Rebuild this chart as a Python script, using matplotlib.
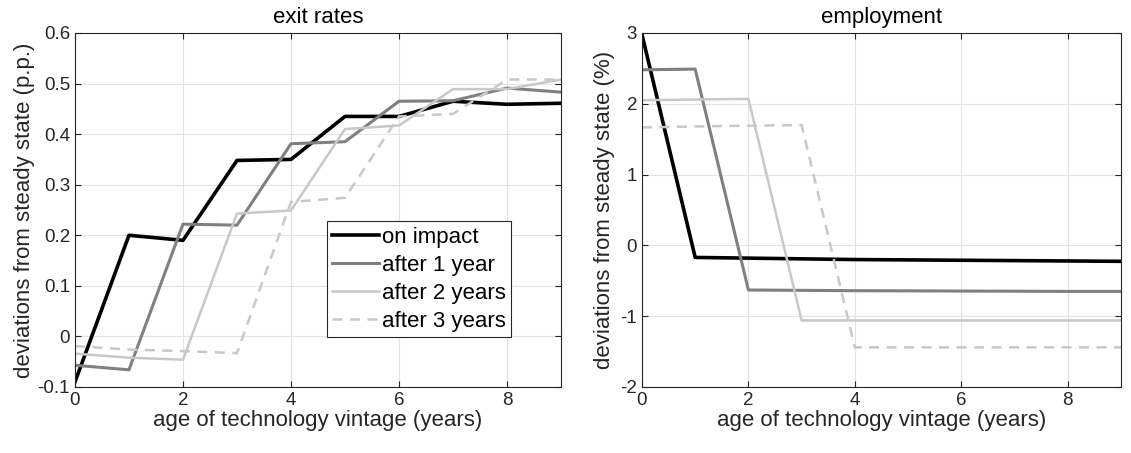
import numpy as np
import matplotlib.pyplot as plt

plt.rcParams['font.family'] = ['Liberation Sans', 'DejaVu Sans']
plt.rcParams['axes.unicode_minus'] = False
plt.rcParams['font.size'] = 16

# vintage age (years)
age = np.arange(10)

labels = ["on impact", "after 1 year", "after 2 years", "after 3 years"]

# exit rates, p.p. deviation from steady state
exit_impact = [-0.09, 0.200, 0.190, 0.348, 0.350, 0.435, 0.435, 0.465, 0.459, 0.461]
exit_1y = [-0.057, -0.066, 0.222, 0.220, 0.381, 0.385, 0.465, 0.466, 0.491, 0.483]
exit_2y = [-0.034, -0.042, -0.046, 0.243, 0.249, 0.410, 0.417, 0.489, 0.489, 0.508]
exit_3y = [-0.019, -0.026, -0.029, -0.033, 0.266, 0.274, 0.435, 0.440, 0.508, 0.508]

# employment, % deviation from steady state
emp_impact = [2.98, -0.17, -0.18, -0.19, -0.20, -0.205, -0.21, -0.215, -0.22, -0.225]
emp_1y = [2.48, 2.49, -0.63, -0.635, -0.64, -0.642, -0.645, -0.647, -0.65, -0.65]
emp_2y = [2.05, 2.06, 2.07, -1.06, -1.06, -1.06, -1.06, -1.06, -1.06, -1.06]
emp_3y = [1.665, 1.68, 1.69, 1.70, -1.44, -1.44, -1.44, -1.44, -1.44, -1.44]

styles = [
    dict(color='black', lw=2.6, ls='-'),
    dict(color='#808080', lw=2.2, ls='-'),
    dict(color='#c8c8c8', lw=1.8, ls='-'),
    dict(color='#c8c8c8', lw=1.8, ls=(0, (4, 3))),
]


def style_axes(ax):
    ax.grid(True, color='#e3e3e3', lw=0.8)
    ax.set_axisbelow(True)
    ax.tick_params(direction='in', top=True, right=True, length=4,
                   color='#262626', labelcolor='#262626', labelsize=13.5)
    for sp in ax.spines.values():
        sp.set_color('#262626')
        sp.set_linewidth(0.8)
    ax.set_xlim(0, 9)
    ax.set_xticks([0, 2, 4, 6, 8])
    ax.set_xlabel("age of technology vintage (years)", color='#262626', labelpad=1)


fig = plt.figure(figsize=(11.31, 4.53), dpi=100)
ax1 = fig.add_axes([0.0663, 0.1457, 0.4297, 0.7815])
ax2 = fig.add_axes([0.5676, 0.1457, 0.4235, 0.7815])

# left panel: exit rates
for y, lab, st in zip([exit_impact, exit_1y, exit_2y, exit_3y], labels, styles):
    ax1.plot(age, y, label=lab, **st)
style_axes(ax1)
ax1.set_ylim(-0.1, 0.6)
ax1.set_yticks(np.round(np.arange(-0.1, 0.61, 0.1), 1))
ax1.set_yticklabels(["-0.1", "0", "0.1", "0.2", "0.3", "0.4", "0.5", "0.6"])
ax1.set_ylabel("deviations from steady state (p.p.)", color='#262626', labelpad=2)
ax1.set_title("exit rates", fontsize=16, pad=7)
leg = ax1.legend(loc='upper left', bbox_to_anchor=(0.518, 0.469),
                 handlelength=2.1, handletextpad=0.12, borderpad=0.25,
                 labelspacing=0.32, borderaxespad=0, fancybox=False,
                 framealpha=1, edgecolor='#262626', fontsize=16)
leg.get_frame().set_linewidth(0.8)

# right panel: employment
for y, lab, st in zip([emp_impact, emp_1y, emp_2y, emp_3y], labels, styles):
    ax2.plot(age, y, label=lab, **st)
style_axes(ax2)
ax2.set_ylim(-2, 3)
ax2.set_yticks(range(-2, 4))
ax2.set_ylabel("deviations from steady state (%)", color='#262626', labelpad=4)
ax2.set_title("employment", fontsize=16, pad=7)

fig.savefig("out.png", dpi=100)
